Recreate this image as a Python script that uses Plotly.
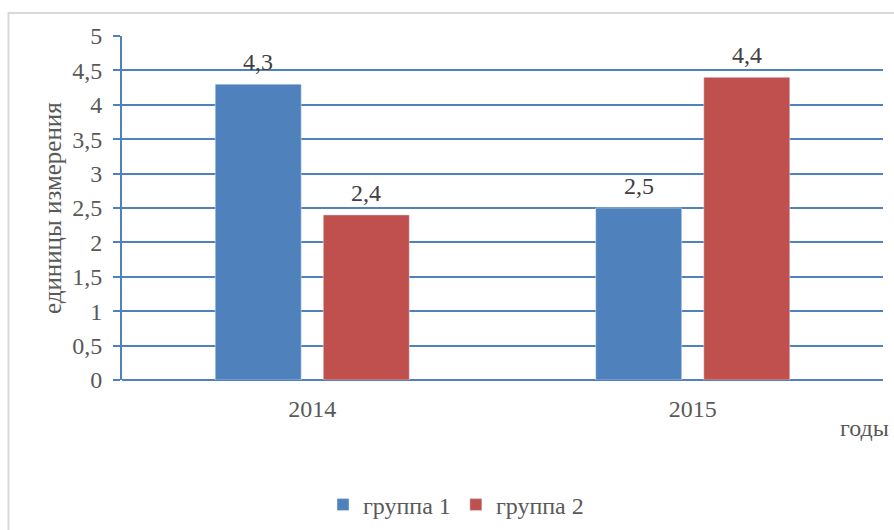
import plotly.graph_objects as go

years = ["2014", "2015"]
group1 = [4.3, 2.5]
group2 = [2.4, 4.4]
series_names = ["группа 1", "группа 2"]
y_title = "единицы измерения"
x_title = "годы"

FONT = "Liberation Serif, serif"
TXT = "#595959"
GRID = "#4F81BD"
FS = 24
BARGAP = 0.432
GROUPGAP = 0.204

fig = go.Figure()
fig.add_trace(go.Bar(x=years, y=group1, name=series_names[0], marker_color="#4F81BD"))
fig.add_trace(go.Bar(x=years, y=group2, name=series_names[1], marker_color="#C0504D"))

# data labels above bars, positioned via the category axis
slot = (1 - BARGAP) / 2
annotations = []
for s, vals in enumerate([group1, group2]):
    off = (s - 0.5) * slot
    for i, v in enumerate(vals):
        annotations.append(dict(x=i + off, y=v, xref="x", yref="y", text=f"{v:.1f}".replace(".", ","),
                                showarrow=False, yanchor="bottom", yshift=7,
                                font=dict(size=FS, color="#404040", family=FONT)))

L, R, T, B = 122, 11, 36, 150
W, H = 894, 530
ph = H - T - B
pw = W - L - R

annotations.append(dict(text=x_title, xref="paper", yref="paper", x=(891 - L) / pw, xanchor="right",
                        y=-(428 - (H - B)) / ph, yanchor="middle", showarrow=False,
                        font=dict(size=FS, color=TXT, family=FONT)))
annotations.append(dict(text=y_title, xref="paper", yref="paper", x=(52 - L) / pw, xanchor="center",
                        y=0.5, yanchor="middle", textangle=-90, showarrow=False,
                        font=dict(size=25, color=TXT, family=FONT)))

fig.update_layout(
    width=W, height=H,
    margin=dict(l=L, r=R, t=T, b=B, autoexpand=False),
    paper_bgcolor="white", plot_bgcolor="white",
    separators=", ",
    barmode="group", bargap=BARGAP, bargroupgap=GROUPGAP,
    font=dict(family=FONT, color=TXT, size=FS),
    showlegend=True,
    legend=dict(orientation="h", x=(456 - L) / pw, xanchor="center",
                y=-(505 - (H - B)) / ph, yanchor="middle",
                font=dict(size=FS, color=TXT, family=FONT),
                itemwidth=30, traceorder="normal"),
    xaxis=dict(showgrid=False, showline=False, ticks="", zeroline=False, automargin=False,
               tickfont=dict(size=FS, color=TXT, family=FONT), ticklabelstandoff=12),
    yaxis=dict(range=[0, 5], dtick=0.5, showgrid=True, gridcolor=GRID, gridwidth=2,
               showline=True, linecolor=GRID, linewidth=2, zeroline=True,
               zerolinecolor=GRID, zerolinewidth=2, automargin=False,
               ticks="outside", ticklen=7, tickcolor=GRID, tickwidth=2,
               tickfont=dict(size=FS, color=TXT, family=FONT), ticklabelstandoff=6),
    annotations=annotations,
    shapes=[dict(type="rect", xref="paper", yref="paper",
                 x0=(8.5 - L) / pw, x1=1.2, y0=-0.8, y1=(H - B - 13) / ph,
                 line=dict(color="#D9D9D9", width=2), layer="below")],
)

fig.write_html("out.html", config={"displayModeBar": False},
               post_script="document.body.style.margin='0';document.body.style.overflow='hidden';")
